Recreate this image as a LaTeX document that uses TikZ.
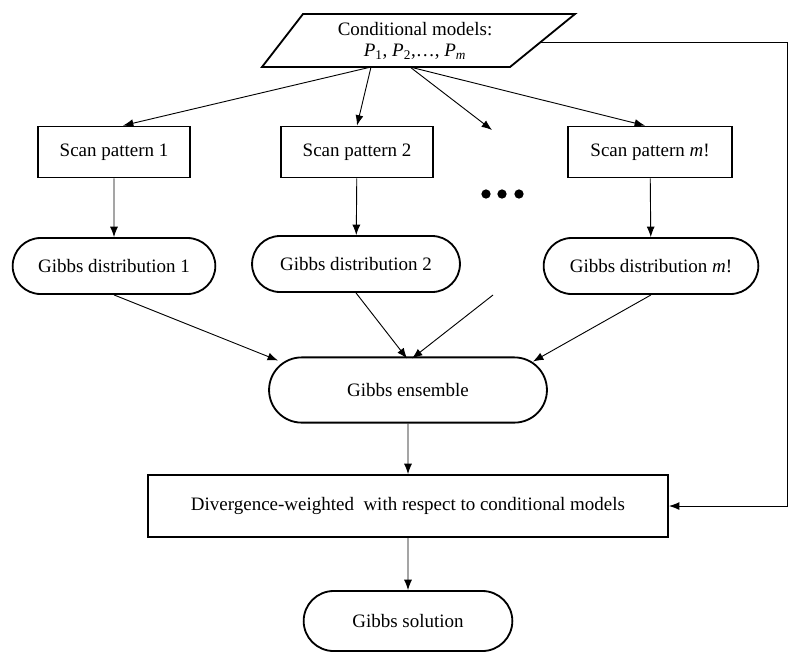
\documentclass[tikz,border=0pt]{standalone}
\usepackage{fontspec}
\setmainfont{Liberation Serif}
\usetikzlibrary{arrows.meta,positioning,calc,shapes.misc}

\tikzset{
  scanbox/.style={draw, line width=1.3pt, minimum width=3.8cm, minimum height=1.275cm},
  gibbs/.style={draw, rounded rectangle, line width=1.3pt, minimum height=1.4cm},
  link/.style={-{Latex[length=2.6mm,width=2mm]}, line width=0.65pt},
}

\begin{document}
\begin{tikzpicture}[x=0.025cm, y=-0.025cm, font=\fontsize{13.5}{15}\selectfont]
      \useasboundingbox (0,0) rectangle (800,660);

      % conditional models
      \draw[line width=1.3pt] (262,67) -- (303,14) -- (575,14) -- (510,67) -- cycle;
      \node[align=center, inner sep=0pt] (cond) at (415,41)
            {Conditional models:\\ \textit{P}\textsubscript{1}, \textit{P}\textsubscript{2},\dots, \textit{P}\textsubscript{\textit{m}}};
      \coordinate (cl) at (371,67);
      \coordinate (cr) at (410,67);
      \coordinate (ce) at (541,42);
      \coordinate (dotsin) at (492,130);
      \coordinate (free) at (493,295);
      \coordinate (fb) at (787,42);

      % scan patterns
      \node[scanbox] (s1) at (114,152) {Scan pattern 1};
      \node[scanbox] (s2) at (357,152) {Scan pattern 2};
      \node[scanbox, minimum width=4.1cm] (sm) at (650,152) {Scan pattern \textit{m}!};
      \foreach \px in {486,502,519}
        \fill (\px,194) circle (3.3pt);

      % gibbs distributions
      \node[gibbs, minimum width=5.3cm] (g1) at (114,266) {Gibbs distribution 1};
      \node[gibbs, minimum width=5.43cm] (g2) at (356,264) {Gibbs distribution 2};
      \node[gibbs, minimum width=5.6cm] (gm) at (651,266) {Gibbs distribution \textit{m}!};

      \node[gibbs, minimum width=7.18cm, minimum height=1.63cm] (ens) at (408,390) {Gibbs ensemble};
      \node[scanbox, minimum width=13cm, minimum height=1.55cm] (div) at (408,506)
            {Divergence-weighted\ \ with respect to conditional models};
      \node[gibbs, minimum width=5.45cm, minimum height=1.5cm] (sol) at (408,621) {Gibbs solution};

      \draw[link] (cl) -- ($(s1.north)+(9,0)$);
      \draw[link] (cl) -- (s2.north);
      \draw[link] (cr) -- (dotsin);
      \draw[link] (cr) -- ($(sm.north)+(-5,0)$);

      \draw[link] (s1) -- (g1);
      \draw[link] (s2) -- (g2);
      \draw[link] (sm) -- (gm);

      % into the ensemble
      \draw[link] (g1.south) -- ($(ens.north)+(-130,4)$);
      \draw[link] (g2.south) -- ($(ens.north)+(-1,2)$);
      \draw[link] (free) -- ($(ens.north)+(4,2)$);
      \draw[link] (gm.south) -- ($(ens.north)+(125,5)$);

      \draw[link] (ens) -- (div);
      \draw[link] (div) -- (sol);
      \draw[link] (ce) -- (fb) -- (fb |- div.east) -- (div.east);
\end{tikzpicture}
\end{document}
